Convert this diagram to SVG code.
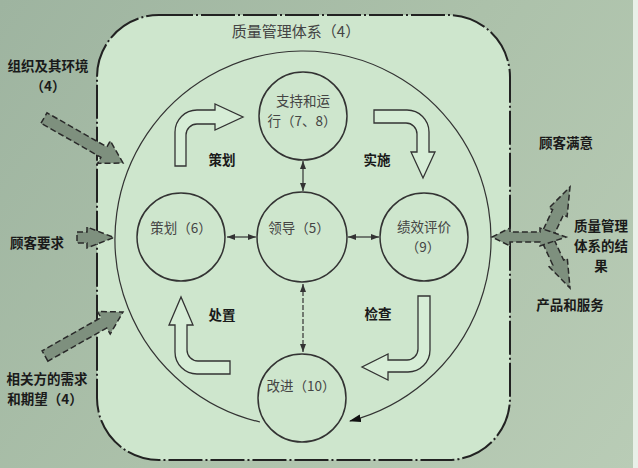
<svg xmlns="http://www.w3.org/2000/svg" width="638" height="468" viewBox="0 0 638 468">
<defs>
<linearGradient id="bg" gradientUnits="userSpaceOnUse" x1="0" y1="0" x2="638" y2="468">
<stop offset="0" stop-color="#9eb4a0"/>
<stop offset="0.5" stop-color="#acc1aa"/>
<stop offset="1" stop-color="#b9ccb6"/>
</linearGradient>
<marker id="sa" markerUnits="userSpaceOnUse" markerWidth="8" markerHeight="6" refX="8" refY="3" orient="auto-start-reverse">
<path d="M0,0 L8,3 L0,6 Z" fill="#333"/>
</marker>
<marker id="ba" markerUnits="userSpaceOnUse" markerWidth="12" markerHeight="8" refX="11" refY="4" orient="auto">
<path d="M0,0 L12,4 L0,8 Z" fill="#111"/>
</marker>
<style>
.node{fill:none;stroke:#333;stroke-width:1.5}
.lbl{font-family:"Noto Sans CJK SC","Liberation Sans",sans-serif;font-size:13.5px;fill:#444;text-anchor:middle}
.bold{font-family:"Noto Sans CJK SC","Liberation Sans",sans-serif;font-size:13.5px;font-weight:bold;fill:#1a1a1a;text-anchor:middle}
.hollow{fill:#d6edd6;stroke:#333;stroke-width:1.3;stroke-linejoin:miter}
.io{fill:#7e907e;stroke:#2a2a2a;stroke-width:1.5;stroke-dasharray:6 3}
.conn{fill:none;stroke:#333;stroke-width:1.2}
</style>
</defs>
<rect x="0" y="0" width="638" height="468" fill="url(#bg)"/>
<rect x="633" y="0" width="5" height="468" fill="#e9f0e8"/>
<rect id="qms" x="97" y="15" width="413" height="445" rx="62" ry="62" fill="#cee6cd" stroke="#222" stroke-width="2" stroke-dasharray="34 3 2 3"/>
<text class="lbl" x="296" y="37" style="font-size:15px">质量管理体系（4）</text>

<g id="connectors">
<path class="conn" d="M 260 422 A 188 188 0 1 1 350 421" stroke-width="1.5" marker-end="url(#ba)"/>
<line class="conn" x1="227" y1="237" x2="256" y2="237" marker-start="url(#sa)" marker-end="url(#sa)"/>
<line class="conn" x1="348" y1="237" x2="379" y2="237" marker-start="url(#sa)" marker-end="url(#sa)"/>
<line class="conn" x1="303" y1="161" x2="303" y2="191" marker-start="url(#sa)" marker-end="url(#sa)"/>
<line class="conn" x1="303" y1="284" x2="303" y2="352" stroke-dasharray="5 2" marker-start="url(#sa)" marker-end="url(#sa)"/>
</g>

<g id="cycle-arrows">
<path class="hollow" d="M 175 166 L 175 132 A 22 22 0 0 1 197 110 L 215 110 L 215 104 L 243 117 L 215 130 L 215 124 L 197 124 A 11 11 0 0 0 186 135 L 186 166 Z"/>
<path class="hollow" d="M 374 110 L 407 110 A 22 22 0 0 1 429 132 L 429 152 L 435 152 L 423 178 L 411 152 L 417 152 L 417 134 A 11 11 0 0 0 406 123 L 374 123 Z"/>
<path class="hollow" d="M 418 296 L 430 296 L 430 350 A 22 22 0 0 1 408 372 L 388 372 L 388 380 L 362 367 L 388 354 L 388 360 L 407 360 A 11 11 0 0 0 418 349 Z"/>
<path class="hollow" d="M 230 361 L 230 374 L 197 374 A 22 22 0 0 1 175 352 L 175 325 L 169 325 L 181 297 L 193 325 L 187 325 L 187 350 A 11 11 0 0 0 198 361 Z"/>
<text class="bold" x="222" y="165">策划</text>
<text class="bold" x="377" y="165">实施</text>
<text class="bold" x="222" y="320">处置</text>
<text class="bold" x="378" y="319">检查</text>
</g>

<g id="support">
<circle class="node" cx="303" cy="116" r="44"/>
<text class="lbl" x="303" y="106">支持和运</text>
<text class="lbl" x="302" y="126">行（7、8）</text>
</g>
<g id="planning">
<circle class="node" cx="181" cy="237" r="44"/>
<text class="lbl" x="181" y="233">策划（6）</text>
</g>
<g id="leadership">
<circle class="node" cx="302" cy="237" r="45"/>
<text class="lbl" x="299" y="233">领导（5）</text>
</g>
<g id="evaluation">
<circle class="node" cx="424" cy="237" r="44"/>
<text class="lbl" x="424" y="232">绩效评价</text>
<text class="lbl" x="423" y="252">（9）</text>
</g>
<g id="improvement">
<circle class="node" cx="302" cy="398" r="44"/>
<text class="lbl" x="301" y="391">改进（10）</text>
</g>

<g id="inputs">
<polygon class="io" points="41,123.2 47,112.8 106.9,146.9 110.3,140.8 123,163 97.5,163.4 100.9,157.3"/>
<polygon class="io" points="77,232 87,232 87,227 114,237.5 87,248 87,243 77,243"/>
<polygon class="io" points="47.9,361.2 42.1,350.8 100.9,317.6 97.4,311.5 123,312 110.2,334.1 106.7,328"/>
<text class="bold" x="48" y="71">组织及其环境</text>
<text class="bold" x="48" y="91">（4）</text>
<text class="bold" x="37" y="248">顾客要求</text>
<text class="bold" x="47" y="384">相关方的需求</text>
<text class="bold" x="45" y="404">和期望（4）</text>
</g>

<g id="outputs">
<polygon class="io" points="539.6,237.4 552.6,209.7 549,208 570,187 567.1,216.6 563.4,214.9 550.4,242.6"/>
<polygon class="io" points="550.4,231.5 563.6,260.1 567.3,258.4 570,288 549.1,266.8 552.8,265.1 539.6,236.5"/>
<polygon class="io" points="492,237 510,228 510,232 540,232 540,228 566,237 540,246 540,242 510,242 510,246"/>
<rect x="571" y="212" width="61" height="66" fill="url(#bg)"/>
<text class="bold" x="566" y="148">顾客满意</text>
<text class="bold" x="601" y="231">质量管理</text>
<text class="bold" x="601" y="251">体系的结</text>
<text class="bold" x="601" y="271">果</text>
<text class="bold" x="570" y="310">产品和服务</text>
</g>
</svg>
